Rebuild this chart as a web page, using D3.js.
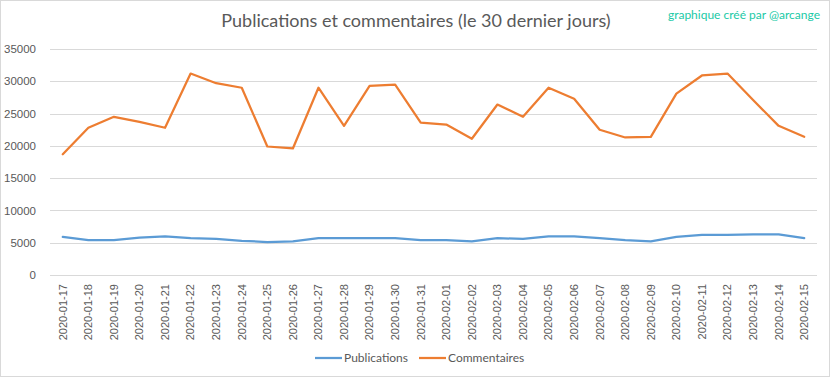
<!DOCTYPE html>
<html>
<head>
<meta charset="utf-8">
<script src="https://cdn.jsdelivr.net/npm/d3@7"></script>
<style>
  body { margin: 0; background: #fff; }
  svg { font-family: Lato, "Open Sans", sans-serif; }
</style>
</head>
<body>
<div id="chart"></div>
<script>
// dates on the x axis
const dates = ["2020-01-17","2020-01-18","2020-01-19","2020-01-20","2020-01-21","2020-01-22","2020-01-23","2020-01-24","2020-01-25","2020-01-26",
  "2020-01-27","2020-01-28","2020-01-29","2020-01-30","2020-01-31","2020-02-01","2020-02-02","2020-02-03","2020-02-04","2020-02-05",
  "2020-02-06","2020-02-07","2020-02-08","2020-02-09","2020-02-10","2020-02-11","2020-02-12","2020-02-13","2020-02-14","2020-02-15"];

// values
const publications = [5900,5400,5400,5800,6000,5700,5600,5300,5100,5200,
  5700,5700,5700,5700,5400,5400,5200,5700,5600,6000,
  6000,5700,5400,5200,5900,6200,6200,6300,6300,5700];
const commentaires = [18700,22800,24500,23700,22800,31200,29700,29000,19900,19600,
  29000,23100,29300,29500,23600,23300,21100,26400,24500,29000,
  27300,22500,21300,21400,28100,30900,31200,27100,23100,21400];

const yTicks = [0,5000,10000,15000,20000,25000,30000,35000];
const seriesNames = ["Publications","Commentaires"];
const colors = ["#5b9bd5","#ed7d31"];

function init() {
  const width = 832, height = 378;
  const margin = {left: 50, right: 15, top: 49, bottom: 103};

  const svg = d3.select("#chart").append("svg")
    .attr("width", width).attr("height", height);

  // chart frame
  svg.append("rect")
    .attr("x", 0.5).attr("y", 0.5)
    .attr("width", 829).attr("height", 376)
    .attr("fill", "#fff").attr("stroke", "#d9d9d9");

  const x = d3.scaleBand().domain(dates)
    .range([margin.left, width - margin.right]);
  const y = d3.scaleLinear().domain([0, 35000])
    .range([height - margin.bottom, margin.top]);

  // gridlines
  svg.append("g").selectAll("line")
    .data(yTicks)
    .join("line")
    .attr("x1", margin.left).attr("x2", width - margin.right)
    .attr("y1", d => Math.round(y(d)) + 0.5).attr("y2", d => Math.round(y(d)) + 0.5)
    .attr("stroke", "#d9d9d9").attr("stroke-width", 1);

  // y axis labels
  const yAxis = svg.append("g")
    .attr("transform", `translate(${margin.left - 11},0)`)
    .call(d3.axisLeft(y).tickValues(yTicks).tickSize(0).tickFormat(d3.format("d")));
  yAxis.select(".domain").remove();
  yAxis.selectAll("text")
    .attr("fill", "#595959").style("font-size", "11.5px");

  // x axis labels, rotated
  const xAxis = svg.append("g")
    .attr("transform", `translate(0,${height - margin.bottom})`)
    .call(d3.axisBottom(x).tickSize(0));
  xAxis.select(".domain").remove();
  xAxis.selectAll("text")
    .attr("fill", "#595959").style("font-size", "11px")
    .attr("transform", "rotate(-90)")
    .attr("x", -9).attr("y", 0).attr("dy", "0.35em")
    .style("text-anchor", "end");

  // lines
  const line = d3.line()
    .x((d, i) => x(dates[i]) + x.bandwidth() / 2)
    .y(d => y(d));

  [publications, commentaires].forEach((s, k) => {
    svg.append("path")
      .datum(s)
      .attr("d", line)
      .attr("fill", "none")
      .attr("stroke", colors[k])
      .attr("stroke-width", 2.25)
      .attr("stroke-linejoin", "round")
      .attr("stroke-linecap", "round");
  });

  // title
  svg.append("text")
    .attr("x", 416).attr("y", 27)
    .attr("text-anchor", "middle")
    .attr("fill", "#595959")
    .style("font-size", "18px")
    .text("Publications et commentaires (le 30 dernier jours)");

  // watermark
  svg.append("text")
    .attr("x", 820).attr("y", 19)
    .attr("text-anchor", "end")
    .attr("fill", "#20c9a6")
    .style("font-size", "12px")
    .text("graphique créé par @arcange");

  // legend
  const legendX = [315, 419];
  const legend = svg.append("g").selectAll("g")
    .data(seriesNames)
    .join("g")
    .attr("transform", (d, i) => `translate(${legendX[i]},358)`);
  legend.append("line")
    .attr("x1", 0).attr("x2", 27)
    .attr("stroke", (d, i) => colors[i]).attr("stroke-width", 2.25);
  legend.append("text")
    .attr("x", 29).attr("dy", "0.35em")
    .attr("fill", "#595959").style("font-size", "12px")
    .text(d => d);
}

window.onload = init;
</script>
</body>
</html>
